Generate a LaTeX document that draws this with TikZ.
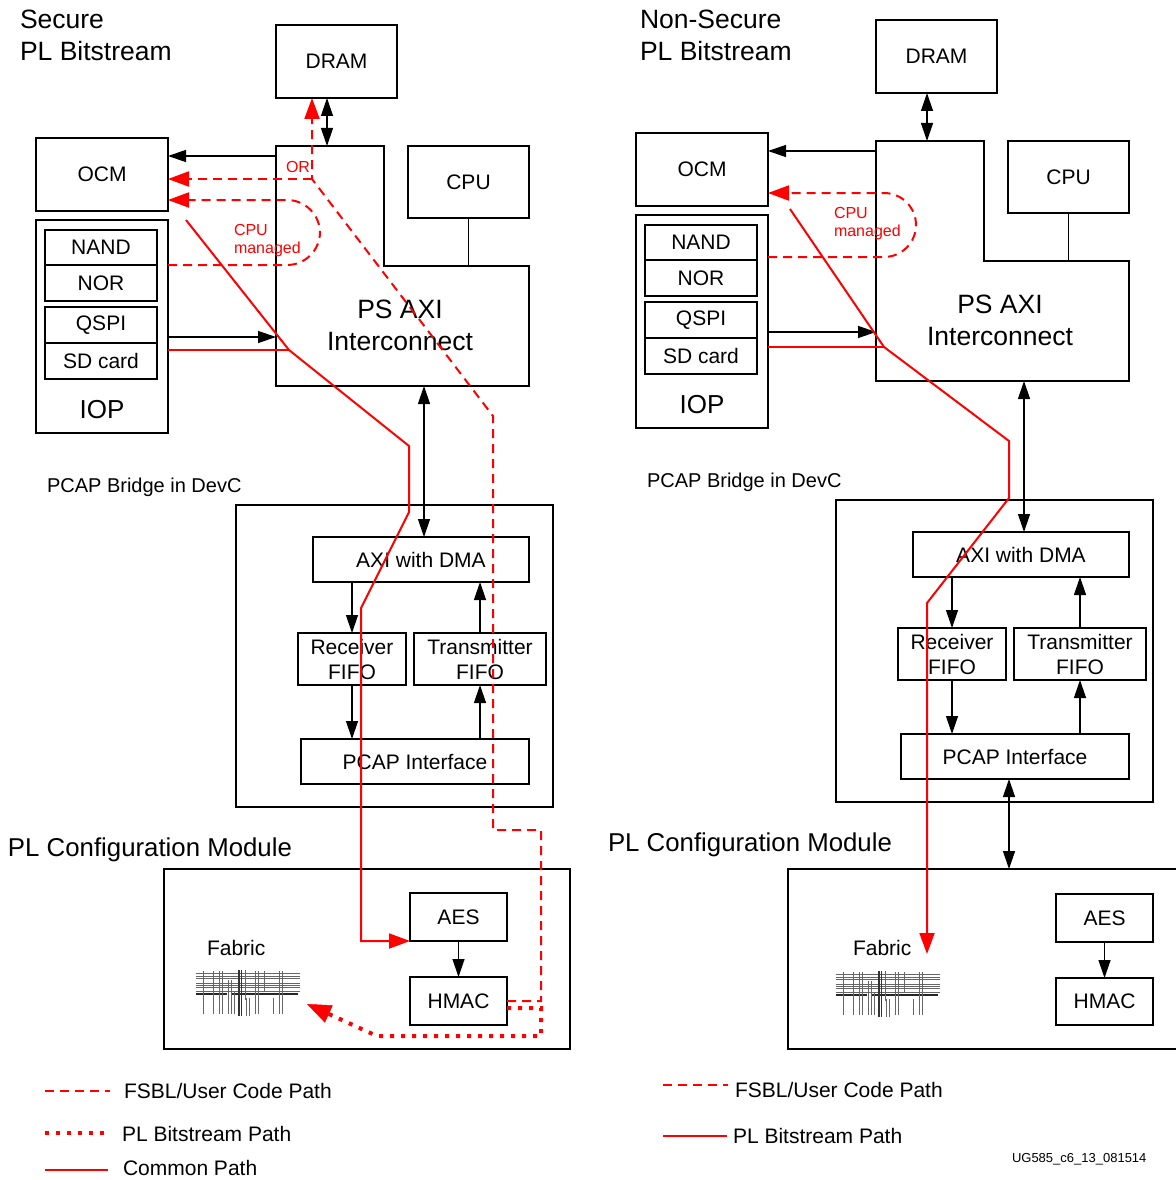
\documentclass[tikz,border=0pt]{standalone}
\usepackage{fontspec}
\setmainfont{Liberation Sans}
\usetikzlibrary{arrows.meta}
\newcommand{\fsz}[2]{\fontsize{#1}{#2}\selectfont}
\newcommand{\bx}[7]{\node[#6, minimum width={(#4)-(#2)}, minimum height={(#5)-(#3)}] (#1) at ({((#2)+(#4))/2},{((#3)+(#5))/2}) {#7};}
\tikzset{fabricpic/.pic={
 \begin{scope}[line width=0.8pt, draw=black!60]
 \foreach \yy in {3,6,8,13,15,17,21} \draw (0,\yy) -- (104,\yy);
 \draw[black!85, line width=1.1pt] (0,24) -- (31,24) (36,24) -- (102,24);
 \foreach \xx in {7,17,23,26,59,62,83,86} \draw (\xx,1) -- (\xx,44);
 \foreach \xx in {32,35} \draw (\xx,10) -- (\xx,44);
 \draw (38,22) -- (38,44);
 \draw[black!80,line width=1.2pt] (43,0) -- (43,46) (45.5,0) -- (45.5,46);
 \draw (49,0) -- (49,30); \draw (50,28) -- (50,46); \draw (53,28) -- (53,46);
 \draw (68,1) -- (68,22); \draw (77,28) -- (77,44);
 \end{scope}}}
\newcommand{\commonpart}[1]{%
 \bx{#1dram}{276}{25}{397}{98}{tb}{DRAM}
 \bx{#1ocm}{36}{138}{168}{211}{tb}{OCM}
 \bx{#1iop}{36}{220}{168}{433}{tb}{}
 \node[font=\fsz{26}{30}, inner sep=0pt] (#1ioplbl) at (102,410) {IOP};
 \bx{#1nand}{45}{230}{157}{265}{mb}{NAND}
 \bx{#1nor}{45}{265}{157}{301}{mb}{NOR}
 \bx{#1qspi}{45}{307}{157}{343}{mb}{QSPI}
 \bx{#1sd}{45}{343}{157}{379}{mb}{SD card}
 \bx{#1cpu}{408}{146}{529}{218}{tb}{CPU}
 \draw[tline] (276,146) -- (384,146) -- (384,266) -- (529,266) -- (529,386) -- (276,386) -- cycle;
 \node[font=\fsz{26.5}{32}, align=center, inner sep=0pt] (#1psaxi) at (400,325) {PS AXI\\Interconnect};
 \coordinate (#1axitop) at (327,146);
 \coordinate (#1axiocm) at (276,156);
 \coordinate (#1axiW) at (276,337);
 \coordinate (#1cpuj) at (468.5,266);
 \coordinate (#1axibot) at (424,386);
 \draw[dblarr] (#1axitop) -- (#1axitop |- #1dram.south);
 \draw[barr] (#1axiocm) -- (#1axiocm -| #1ocm.east);
 \draw[barr] (#1iop.east |- #1axiW) -- (#1axiW);
 \draw[cline] (#1cpu.south) -- (#1cpuj);
 \bx{#1devc}{236}{505}{553}{807}{tb}{}
 \node[lbl, font=\fsz{20}{24}] (#1devclbl) at (47,492) {PCAP Bridge in DevC};
 \bx{#1dma}{313}{537}{529}{582}{ib}{AXI with DMA}
 \bx{#1rx}{298}{633}{406}{685}{ib}{Receiver\\FIFO}
 \bx{#1tx}{414}{633}{546}{685}{ib}{Transmitter\\FIFO}
 \bx{#1pcap}{301}{739}{529}{784}{ib}{PCAP Interface}
 \draw[dblarr] (#1axibot) -- (#1axibot |- #1dma.north);
 \draw[barr] (#1rx.north |- #1dma.south) -- (#1rx.north);
 \draw[barr] (#1rx.south) -- (#1rx.south |- #1pcap.north);
 \draw[barr] (#1tx.south |- #1pcap.north) -- (#1tx.south);
 \draw[barr] (#1tx.north) -- (#1tx.north |- #1dma.south);
}
\begin{document}
\begin{tikzpicture}[x=1pt,y=-1pt,
 tb/.style={draw, line width=2pt, inner sep=0pt, outer sep=0pt, align=center, font=\fsz{21}{25}},
 mb/.style={draw, line width=1.5pt, inner sep=0pt, outer sep=0pt, align=center, font=\fsz{21}{25}},
 ib/.style={draw, line width=1.3pt, inner sep=0pt, outer sep=0pt, align=center, font=\fsz{21}{25}},
 tline/.style={draw, line width=2pt},
 cline/.style={line width=1.8pt},
 barr/.style={line width=1.3pt, -{Triangle[length=18pt,width=12pt]}},
 dblarr/.style={line width=1.3pt, {Triangle[length=18pt,width=12pt]}-{Triangle[length=18pt,width=12pt]}},
 rsolid/.style={draw=red, line width=2pt},
 rdash/.style={draw=red, line width=2pt, dash pattern=on 9pt off 6pt},
 rdot/.style={draw=red, line width=4pt, dash pattern=on 4pt off 7pt},
 rtip/.style={-{Triangle[length=21pt,width=15pt]}},
 btip/.style={-{Triangle[length=24pt,width=19pt,line width=0.5pt]}},
 lbl/.style={anchor=base west, inner sep=0pt, outer sep=0pt},
 rlbl/.style={lbl, text=red, font=\fsz{16}{19}},
 ttl/.style={lbl, font=\fsz{26.5}{32}},
 txt/.style={lbl, font=\fsz{21}{25}},
]
\useasboundingbox (0,0) rectangle (1175,1180);
\fill[white] (0,0) rectangle (1175,1180);

% ---------------- LEFT: Secure ----------------
\node[ttl] (Lt1) at (20,29) {Secure};
\node[ttl] (Lt2) at (20,61) {PL Bitstream};
\commonpart{L}
\node[lbl, font=\fsz{25.8}{30}] (Lpllbl) at (8,856) {PL Configuration Module};
\bx{Lpl}{164}{869}{570}{1049}{tb}{}
\bx{Laes}{410}{893}{507}{941}{ib}{AES}
\bx{Lhmac}{410}{977}{507}{1025}{ib}{HMAC}
\draw[barr] (Laes.south) -- (Lhmac.north);
\node[txt] (Lfablbl) at (207,955) {Fabric};
\pic (Lfab) at (196,970) {fabricpic};

% red paths (left)
\node[rlbl] (Lor) at (286,172) {OR};
\coordinate (Lorj) at (312,179);
\coordinate (Ls0) at (186,220);
\coordinate (Lk1) at (289,350);
\coordinate (Lloopin) at (168,265);
\coordinate (Lloopout) at (168,200);
\coordinate (Lh1) at (507,1001);
\coordinate (Lh2) at (507,1008);
\coordinate (Lfabin) at (307,1004);
\node[rlbl] (Lcpu1) at (234,235) {CPU};
\node[rlbl] (Lcpu2) at (234,253) {managed};
\draw[rdash, rtip] (Lh1) -- (541,1001) -- (541,830) -- (493,830) -- (493,416) -- (Lorj) -- (Lorj |- Ldram.south);
\draw[rdash, rtip] (Lorj) -- (Lorj -| Locm.east);
\draw[rdash, rtip, rounded corners=33pt] (Lloopin) -- (320,265) -- (320,200) -- (Lloopout);
\draw[rsolid] (Liop.east |- Lk1) -- (Lk1);
\draw[rsolid, rtip] (Ls0) -- (Lk1) -- (409,446) -- (409,512) -- (361,608) -- (361,941) -- (Laes.south west);
\draw[rdot, btip] (Lh2) -- (541,1008) -- (541,1036) -- (377,1036) -- (Lfabin);

% legend left
\coordinate (Lg1a) at (45,1091); \coordinate (Lg1b) at (110,1091);
\coordinate (Lg2a) at (45,1133); \coordinate (Lg2b) at (110,1133);
\coordinate (Lg3a) at (45,1170); \coordinate (Lg3b) at (108,1170);
\draw[rdash] (Lg1a) -- (Lg1b);
\draw[rdot] (Lg2a) -- (Lg2b);
\draw[rsolid] (Lg3a) -- (Lg3b);
\node[txt] (Lg1t) at (124,1098) {FSBL/User Code Path};
\node[txt] (Lg2t) at (122,1141) {PL Bitstream Path};
\node[txt] (Lg3t) at (123,1175) {Common Path};

% ---------------- RIGHT: Non-Secure ----------------
\node[ttl] (Rt1) at (640,29) {Non-Secure};
\node[ttl] (Rt2) at (640,61) {PL Bitstream};
\begin{scope}[shift={(600,-5)}]
\commonpart{R}
\end{scope}
\node[lbl, font=\fsz{25.8}{30}] (Rpllbl) at (608,851) {PL Configuration Module};
\bx{Rpl}{788}{869}{1190}{1049}{tb}{}
\bx{Raes}{1056}{894}{1153}{942}{ib}{AES}
\bx{Rhmac}{1056}{978}{1153}{1025}{ib}{HMAC}
\draw[barr] (Raes.south) -- (Rhmac.north);
\coordinate (Rpcb) at (1009,779);
\draw[dblarr] (Rpcb) -- (Rpcb |- Rpl.north);
\node[txt] (Rfablbl) at (853,955) {Fabric};
\pic (Rfab) at (836,971) {fabricpic};

\coordinate (Rs0) at (790,209);
\coordinate (Rk1) at (884,347);
\coordinate (Rloopin) at (768,257);
\coordinate (Rloopout) at (768,193);
\coordinate (Rfabin) at (927,954);
\node[rlbl] (Rcpu1) at (834,218) {CPU};
\node[rlbl] (Rcpu2) at (834,236) {managed};
\draw[rdash, rtip, rounded corners=32pt] (Rloopin) -- (916,257) -- (916,193) -- (Rloopout);
\draw[rsolid] (Riop.east |- Rk1) -- (Rk1);
\draw[rsolid, rtip] (Rs0) -- (Rk1) -- (1009,441) -- (1009,498) -- (927,603) -- (Rfabin);

% legend right
\coordinate (Rg1a) at (663,1085); \coordinate (Rg1b) at (728,1085);
\coordinate (Rg2a) at (663,1136); \coordinate (Rg2b) at (727,1136);
\draw[rdash] (Rg1a) -- (Rg1b);
\draw[rsolid] (Rg2a) -- (Rg2b);
\node[txt] (Rg1t) at (735,1097) {FSBL/User Code Path};
\node[txt] (Rg2t) at (733,1143) {PL Bitstream Path};
\node[lbl, font=\fsz{13}{16}] (ugid) at (1012,1162) {UG585\_c6\_13\_081514};
\end{tikzpicture}
\end{document}
